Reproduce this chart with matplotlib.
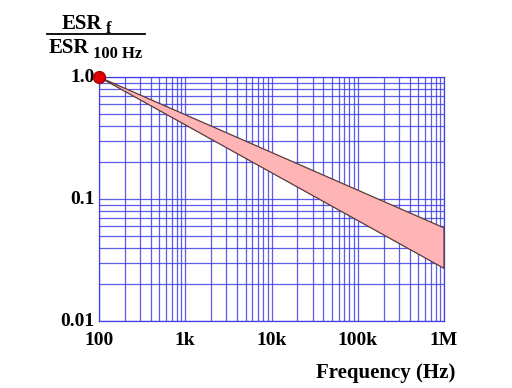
import matplotlib
matplotlib.use("Agg")
import matplotlib.pyplot as plt
from matplotlib.ticker import LogLocator, NullFormatter

freq = [100, 1e6]
upper = [1.0, 0.058]
lower = [1.0, 0.027]
xticks = [100, 1e3, 1e4, 1e5, 1e6]
xlabels = ["100", "1k", "10k", "100k", "1M"]
yticks = [0.01, 0.1, 1.0]
ylabels = ["0.01", "0.1", "1.0"]

plt.rcParams['font.family'] = ['Liberation Serif', 'DejaVu Serif']
plt.rcParams['font.weight'] = 'bold'

fig = plt.figure(figsize=(5.12, 3.88), dpi=100)
ax = fig.add_axes([99/512, 67/388, 345/512, 244/388])
ax.set_xscale('log')
ax.set_yscale('log')
ax.set_xlim(100, 1e6)
ax.set_ylim(0.01, 1.0)

gridc = (0.25, 0.25, 0.9)
ax.xaxis.set_minor_locator(LogLocator(base=10, subs=range(2, 10)))
ax.yaxis.set_minor_locator(LogLocator(base=10, subs=range(2, 10)))
ax.xaxis.set_minor_formatter(NullFormatter())
ax.yaxis.set_minor_formatter(NullFormatter())
ax.grid(True, which='both', color=gridc, lw=0.9, alpha=0.85)
ax.set_axisbelow(True)
for s in ax.spines.values():
    s.set_color(gridc)
    s.set_linewidth(0.9)

poly_x = freq + freq[::-1]
poly_y = upper + lower[::-1]
patches = ax.fill(poly_x, poly_y, facecolor='#FFB5B5', edgecolor='#5a3a3a', lw=0.9, zorder=3)
for p in patches:
    p.set_clip_on(False)
ax.plot([freq[0]], [upper[0]], 'o', color='#e00000', mec='#a00000', ms=8.5, zorder=5, clip_on=False)

ax.set_xticks(xticks)
ax.set_xticklabels(xlabels, fontsize=14, fontweight='bold')
ax.set_yticks(yticks)
ax.set_yticklabels(ylabels, fontsize=14, fontweight='bold')
ax.tick_params(axis='x', which='both', length=0, pad=8)
ax.tick_params(axis='y', which='both', length=0, pad=3)
for lab in ax.get_yticklabels():
    lab.set_verticalalignment('center')

fig.text(455/512, 1 - 378/388, "Frequency (Hz)", fontsize=15, fontweight='bold',
         ha='right', va='baseline')

# fraction label
fig.text(62/512, 1 - 29/388, "ESR", fontsize=15, fontweight='bold', ha='left', va='baseline')
fig.text(106/512, 1 - 33/388, "f", fontsize=12, fontweight='bold', ha='left', va='baseline')
fig.add_artist(plt.Line2D([47/512, 145/512], [1 - 34/388, 1 - 34/388], color='black', lw=1.3))
fig.text(49/512, 1 - 53/388, "ESR", fontsize=15, fontweight='bold', ha='left', va='baseline')
fig.text(93/512, 1 - 58/388, "100 Hz", fontsize=12, fontweight='bold', ha='left', va='baseline')

fig.savefig("out.png", dpi=100)
